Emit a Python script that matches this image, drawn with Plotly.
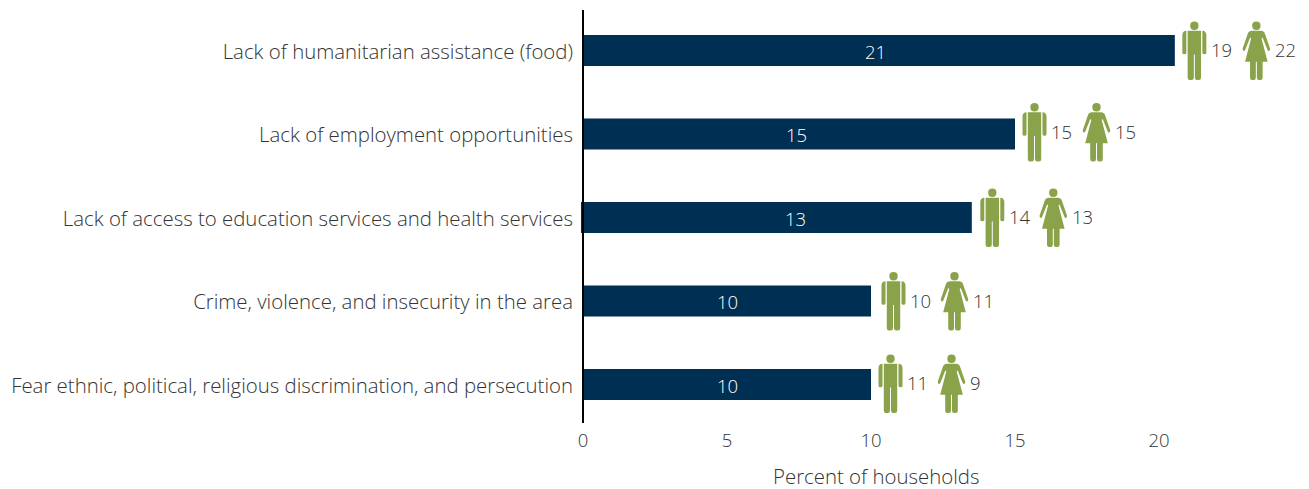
import plotly.graph_objects as go

categories = [
    "Lack of humanitarian assistance (food)",
    "Lack of employment opportunities",
    "Lack of access to education services and health services",
    "Crime, violence, and insecurity in the area",
    "Fear ethnic, political, religious discrimination, and persecution",
]
bar_values = [20.55, 15.0, 13.5, 10.0, 10.0]
total_labels = ["21", "15", "13", "10", "10"]
men_labels = ["19", "15", "14", "10", "11"]
women_labels = ["22", "15", "13", "11", "9"]
x_ticks = [0, 5, 10, 15, 20]
x_title = "Percent of households"

# layout constants (pixels)
W, H = 1309, 489
L, R, T, B = 579, 0, 10, 66
ZERO_PX = 583
PX_PER_UNIT = 28.8
ROW_PX = 83.5
FIRST_ROW = 50.5
NAVY = "#002f54"
GREEN = "#8aa34a"
TEXT = "#333333"
FONT = "Open Sans"
SIZE = 20.4
NUM_SIZE = 18.5
man_offset = [19.5, 19.5, 20.5, 22.5, 19.5]
woman_gap = [62, 62, 61, 61, 61]
icon_lift = [0, 2, 0, 0, 1]
total_shift = [-3, -3, 18, 0, 0]
bar_base = [0, 0, -0.07, 0, 0]

HEAD = ("M -4.2 24.8 Q -4.2 29 0 29 Q 4.2 29 4.2 24.8 Q 4.2 20.6 0 20.6 Q -4.2 20.6 -4.2 24.8 Z ")
MAN = HEAD + (
    "M -6.7 19.8 L 6.7 19.8 L 6.7 -27 Q 6.7 -29.5 4.5 -29.5 L 2.8 -29.5 Q 0.5 -29.5 0.5 -27 "
    "L 0.5 -4 L -0.5 -4 L -0.5 -27 Q -0.5 -29.5 -2.8 -29.5 L -4.5 -29.5 Q -6.7 -29.5 -6.7 -27 Z "
    "M 8 19.8 Q 12 19.6 12 15.5 L 12 -2.3 Q 12 -3.8 10 -3.8 Q 8 -3.8 8 -2.3 Z "
    "M -8 19.8 Q -12 19.6 -12 15.5 L -12 -2.3 Q -12 -3.8 -10 -3.8 Q -8 -3.8 -8 -2.3 Z"
)
WOMAN = HEAD + (
    "M -4.5 19.8 L 4.5 19.8 Q 7.5 19.8 8.5 17 L 13.7 2 Q 14 0 12.5 -0.5 Q 11.5 -0.5 11 1 "
    "L 6.2 13 L 5.2 12 L 11.3 -11.2 L 6.3 -11.2 L 6.3 -27 Q 6.3 -29.5 4.2 -29.5 L 2.6 -29.5 "
    "Q 0.5 -29.5 0.5 -27 L 0.5 -11.2 L -0.5 -11.2 L -0.5 -27 Q -0.5 -29.5 -2.6 -29.5 L -4.2 -29.5 "
    "Q -6.3 -29.5 -6.3 -27 L -6.3 -11.2 L -11.3 -11.2 L -5.2 12 L -6.2 13 L -11 1 Q -11.5 -0.5 -12.5 -0.5 "
    "Q -14 0 -13.7 2 L -8.5 17 Q -7.5 19.8 -4.5 19.8 Z"
)


def shifted(path, dx, dy):
    out, parts = [], path.split()
    i = 0
    while i < len(parts):
        tok = parts[i]
        if tok in ("M", "L"):
            out += [tok, str(float(parts[i + 1]) + dx), str(float(parts[i + 2]) + dy)]
            i += 3
        elif tok == "Q":
            out += [tok, str(float(parts[i + 1]) + dx), str(float(parts[i + 2]) + dy),
                    str(float(parts[i + 3]) + dx), str(float(parts[i + 4]) + dy)]
            i += 5
        else:
            out.append(tok)
            i += 1
    return " ".join(out)


fig = go.Figure(go.Bar(
    y=categories,
    x=[v - b for v, b in zip(bar_values, bar_base)],
    base=bar_base,
    orientation="h",
    width=31 / ROW_PX,
    marker=dict(color=NAVY, line=dict(width=0)),
    hoverinfo="skip",
))

shapes, notes = [], []
for i, cat in enumerate(categories):
    v = bar_values[i]
    mx = man_offset[i]
    wx = mx + woman_gap[i]
    dy = icon_lift[i]
    for path in (shifted(MAN, mx, dy), shifted(WOMAN, wx, dy)):
        shapes.append(dict(type="path", xref="x", yref="y", xsizemode="pixel", ysizemode="pixel",
                           xanchor=v, yanchor=cat, path=path,
                           fillcolor=GREEN, line=dict(width=0), layer="above"))
    notes.append(dict(x=v / 2, y=cat, text=total_labels[i], showarrow=False, xshift=total_shift[i],
                      yshift=-0.5, font=dict(color="white", size=NUM_SIZE)))
    notes.append(dict(x=v, y=cat, text=men_labels[i], showarrow=False, xanchor="left",
                      xshift=mx + 14.5, yshift=1 + dy, font=dict(color=TEXT, size=NUM_SIZE)))
    notes.append(dict(x=v, y=cat, text=women_labels[i], showarrow=False, xanchor="left",
                      xshift=wx + 16.5, yshift=1 + dy, font=dict(color=TEXT, size=NUM_SIZE)))
notes.append(dict(x=10.17, xref="x", y=0, yref="paper", yanchor="middle", yshift=-53, height=20,
                  text=x_title, showarrow=False, font=dict(color=TEXT)))
shapes.append(dict(type="line", xref="x", yref="paper", x0=0, x1=0, y0=0, y1=1,
                   line=dict(color="black", width=2), layer="above"))

fig.update_layout(
    width=W, height=H, autosize=False,
    margin=dict(l=L, r=R, t=T, b=B, pad=0),
    paper_bgcolor="white", plot_bgcolor="white",
    showlegend=False,
    font=dict(family=FONT, size=SIZE, color=TEXT, weight=300),
    shapes=shapes, annotations=notes,
    xaxis=dict(range=[(L - ZERO_PX) / PX_PER_UNIT, (W - ZERO_PX) / PX_PER_UNIT], tickvals=x_ticks,
               showgrid=False, zeroline=False, showline=False, ticks="", automargin=False,
               ticklabelstandoff=4, tickfont=dict(size=NUM_SIZE)),
    yaxis=dict(type="category", categoryorder="array", categoryarray=categories,
               range=[(H - B - FIRST_ROW) / ROW_PX, (T - FIRST_ROW) / ROW_PX],
               showgrid=False, zeroline=False, showline=False,
               ticks="", automargin=False, ticklabelstandoff=5, ticklabelshift=-1),
)
fig.write_html("out.html", config=dict(displayModeBar=False),
               post_script="document.body.style.margin='0';")
